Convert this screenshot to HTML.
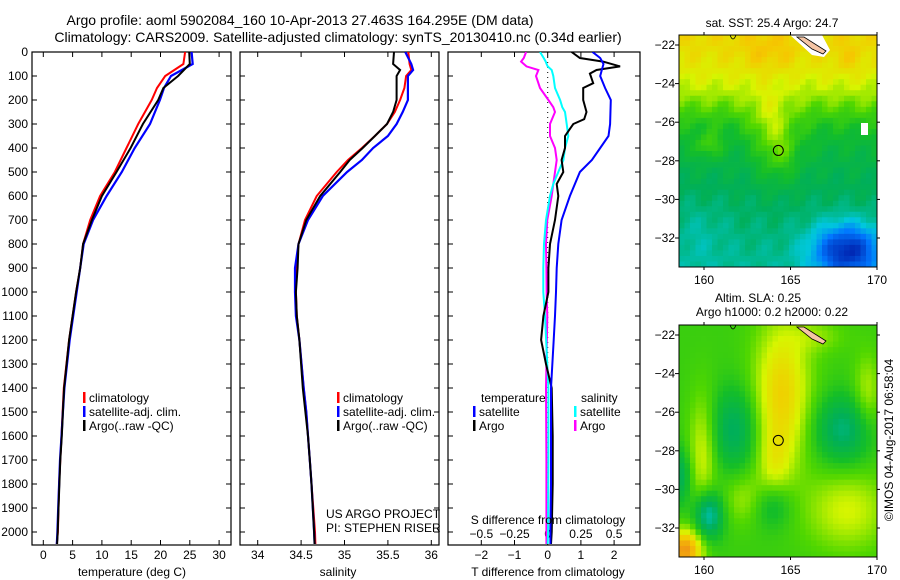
<!DOCTYPE html>
<html><head><meta charset="utf-8"><style>
body{margin:0;background:#fff;}
svg{display:block;font-family:"Liberation Sans",sans-serif;}
</style></head><body>
<svg id="c" width="900" height="580" viewBox="0 0 900 580">
<rect width="900" height="580" fill="#fff"/>
<text x="300" y="25" font-size="14" text-anchor="middle">Argo profile: aoml 5902084_160 10-Apr-2013 27.463S 164.295E (DM data)</text>
<text x="338" y="42" font-size="14" text-anchor="middle">Climatology: CARS2009. Satellite-adjusted climatology: synTS_20130410.nc (0.34d earlier)</text>
<g id="g"></g>
</svg>
<script>
// ---- data ----
const depthsT=[0,50,100,150,200,300,400,500,600,700,800,900,1000,1100,1200,1400,1500,1600,1700,1800,1900,2000,2050];
const tempClim=[24.2,23.9,20.8,19.4,18.5,16.2,14.2,12.2,9.7,8.0,6.8,6.3,5.6,5.0,4.4,3.5,3.3,3.1,2.9,2.7,2.6,2.5,2.3];
const tempSat=[25.3,25.5,21.8,20.6,19.9,18.2,15.6,13.4,10.8,8.5,6.9,6.3,5.7,5.1,4.5,3.6,3.35,3.1,2.85,2.7,2.55,2.4,2.3];
const tempArgo=[24.9,25.0,23.0,20.5,19.6,17.0,14.9,12.5,10.0,8.3,6.8,6.3,5.6,5.0,4.4,3.55,3.35,3.15,2.9,2.75,2.6,2.45,2.35];
const depthsS=[0,50,75,100,150,200,250,300,350,400,450,500,600,700,800,900,1000,1100,1200,1400,1500,1600,1700,1800,1900,2000,2050];
const salClim=[35.735,35.75,35.77,35.71,35.69,35.64,35.58,35.49,35.35,35.2,35.04,34.91,34.68,34.545,34.47,34.44,34.44,34.45,34.48,34.53,34.56,34.58,34.6,34.62,34.64,34.66,34.665];
const salSat=[35.70,35.77,35.79,35.73,35.73,35.73,35.67,35.6,35.5,35.33,35.2,35.03,34.75,34.58,34.47,34.43,34.43,34.44,34.48,34.53,34.56,34.58,34.6,34.62,34.635,34.65,34.655];
const salArgo=[35.57,35.56,35.64,35.6,35.6,35.6,35.56,35.49,35.35,35.21,35.06,34.95,34.72,34.56,34.47,34.46,34.44,34.45,34.48,34.52,34.55,34.58,34.6,34.62,34.635,34.65,34.655];
const depthsDT=[0,25,50,75,100,150,200,300,350,400,450,500,600,700,800,900,1000,1100,1200,1400,1600,1800,2000,2050];
const dTSat=[1.35,1.58,1.68,1.63,1.58,1.73,1.9,1.88,1.83,1.58,1.33,0.97,0.67,0.42,0.32,0.27,0.25,0.22,0.18,0.1,0.1,0.1,0.08,0.08];
const depthsDTA=[0,25,40,60,75,90,130,150,200,250,280,300,350,400,450,500,550,600,700,800,900,1000,1100,1200,1300,1400,1600,1800,2000,2050];
const dTArgo=[0.72,0.97,1.67,2.18,1.47,1.27,1.37,1.07,1.07,1.17,1.1,0.77,0.52,0.52,0.42,0.47,0.27,0.32,0.22,0.07,0.02,0.02,-0.13,-0.2,-0.05,0.12,0.15,0.15,0.12,0.1];
const depthsDS=[0,25,40,50,60,75,100,150,200,230,250,300,350,400,450,500,550,600,700,800,900,1000,1100,1400,1700,2000,2050];
const dSSat=[-0.058,-0.03,-0.015,-0.008,0.0,0.03,0.042,0.055,0.093,0.11,0.13,0.143,0.155,0.13,0.118,0.08,0.042,0.017,-0.013,-0.028,-0.033,-0.033,-0.02,0.005,0.005,0.003,0.0];
const dSArgo=[-0.163,-0.18,-0.2,-0.18,-0.16,-0.07,-0.088,-0.058,0.005,0.042,0.055,0.017,0.017,0.055,0.068,0.055,0.042,0.03,-0.003,-0.013,-0.01,-0.008,-0.003,-0.013,-0.01,-0.01,-0.01];
const depthTicks=[0,100,200,300,400,500,600,700,800,900,1000,1100,1200,1300,1400,1500,1600,1700,1800,1900,2000];
const tTicks=[0,5,10,15,20,25,30];
const sTicks=[34,34.5,35,35.5,36];
const sTickLabels=["34","34.5","35","35.5","36"];
const dtTicks=[-2,-1,0,1,2];
const dsTicks=[-0.5,-0.25,0,0.25,0.5];
const dsTickLabels=["-0.5","-0.25","0","0.25","0.5"];
const latTicks=[-22,-24,-26,-28,-30,-32];
const lonTicks=[160,165,170];

// ---- scales ----
const yD=d=>52+d*0.24;
const xT=t=>43.3+5.86*t;
const xS=s=>257.7+86.8*(s-34);
const xDT=t=>547.7+33.2*t;
const xDS=s=>547.7+132.8*s;
const NS="http://www.w3.org/2000/svg";
const G=document.getElementById('g');
function mk(tag,attrs,parent){const e=document.createElementNS(NS,tag);for(const k in attrs)e.setAttribute(k,attrs[k]);(parent||G).appendChild(e);return e;}
function txt(x,y,s,size,anchor,parent){const e=mk('text',{x:x,y:y,'font-size':size,'text-anchor':anchor||'start'},parent);e.textContent=s;return e;}

const defs=mk('defs',{});
[[32,231,'c1'],[240,439,'c2'],[448,640,'c3']].forEach(a=>{const cp=mk('clipPath',{id:a[2]},defs);mk('rect',{x:a[0],y:52,width:a[1]-a[0],height:493},cp);});

function panel(x0,x1,name){
  const g=mk('g',{});
  
  
  mk('rect',{x:x0,y:52,width:x1-x0,height:493,fill:'none',stroke:'#000','stroke-width':1.2},g);
  depthTicks.forEach(d=>{const y=yD(d);mk('line',{x1:x0,x2:x0+5,y1:y,y2:y,stroke:'#000'},g);mk('line',{x1:x1-5,x2:x1,y1:y,y2:y,stroke:'#000'},g);});
  return g;
}
function xticks(g,vals,f,x0,x1,labels,ly){vals.forEach((v,i)=>{const x=f(v);if(x<x0||x>x1)return;mk('line',{x1:x,x2:x,y1:52,y2:57,stroke:'#000'},g);mk('line',{x1:x,x2:x,y1:540,y2:545,stroke:'#000'},g);if(labels){const t=txt(x,ly,labels[i],12,'middle',g);}});}
function series(depths,vals,f,color,clip,name,w){
  const pts=depths.map((d,i)=>f(vals[i]).toFixed(1)+','+yD(d).toFixed(1)).join(' ');
  const p=mk('polyline',{points:pts,fill:'none',stroke:color,'stroke-width':w||2,'clip-path':'url(#'+clip+')'});
  
  
}
const p1=panel(32,231,'temperature-panel');
depthTicks.forEach(d=>{const t=txt(28,yD(d)+4,String(d),12,'end');});
xticks(p1,tTicks,xT,32,231,tTicks.map(String),559);
series(depthsT,tempClim,xT,'#f00','c1','temp-climatology-line');
series(depthsT,tempSat,xT,'#00f','c1','temp-satellite-line',2.2);
series(depthsT,tempArgo,xT,'#000','c1','temp-argo-line');
let t=txt(132,576,'temperature (deg C)',12,'middle');
const p2=panel(240,439,'salinity-panel');
xticks(p2,sTicks,xS,240,439,sTickLabels,559);
series(depthsS,salClim,xS,'#f00','c2','sal-climatology-line');
series(depthsS,salSat,xS,'#00f','c2','sal-satellite-line',2.2);
series(depthsS,salArgo,xS,'#000','c2','sal-argo-line');
t=txt(338,576,'salinity',12,'middle');
const p3=panel(448,640,'difference-panel');
xticks(p3,dtTicks,xDT,448,640,dtTicks.map(v=>v<0?'\u2212'+Math.abs(v):String(v)),559);
mk('line',{x1:xDT(0),x2:xDT(0),y1:yD(0),y2:yD(2050),stroke:'#000','stroke-dasharray':'1,4'},p3);
series(depthsDS,dSArgo,xDS,'#f0f','c3','sal-diff-argo-line');
series(depthsDS,dSSat,xDS,'#0ff','c3','sal-diff-satellite-line');
series(depthsDTA,dTArgo,xDT,'#000','c3','temp-diff-argo-line');
series(depthsDT,dTSat,xDT,'#00f','c3','temp-diff-satellite-line');
dsTicks.forEach((v,i)=>{const tt=txt(xDS(v),538,dsTickLabels[i].replace('-','\u2212'),12,'middle',p3);});
t=txt(548,524,'S difference from climatology',12,'middle');
t=txt(548,576,'T difference from climatology',12,'middle');

function legend(x,y,color,label,name){const g=mk('g',{});mk('rect',{x:x,y:y-10,width:2.5,height:11,fill:color},g);txt(x+6,y,label,12,'start',g);}
legend(83,402,'#f00','climatology','legend-climatology');
legend(83,416,'#00f','satellite-adj. clim.','legend-satellite-adj');
legend(83,430,'#000','Argo(..raw -QC)','legend-argo');
legend(337,402,'#f00','climatology','legend2-climatology');
legend(337,416,'#00f','satellite-adj. clim.','legend2-satellite-adj');
legend(337,430,'#000','Argo(..raw -QC)','legend2-argo');
t=txt(481,402,'temperature',12);
t=txt(581,402,'salinity',12);
legend(473,416,'#00f','satellite','legend-t-satellite');
legend(473,430,'#000','Argo','legend-t-argo');
legend(574,416,'#0ff','satellite','legend-s-satellite');
legend(574,430,'#f0f','Argo','legend-s-argo');
t=txt(326,518,'US ARGO PROJECT',12);
t=txt(326,532,'PI: STEPHEN RISER',12);

// ---- maps ----
const lonX=l=>704+(l-160)*17.3;
const latY=(la,top)=>top+10+(-22-la)*19.3;
const cmapStops=[[0,[0,40,180]],[0.18,[0,120,255]],[0.32,[0,200,220]],[0.45,[0,175,90]],[0.55,[20,190,40]],[0.63,[80,215,0]],[0.72,[215,245,0]],[0.82,[245,200,0]],[0.92,[240,150,20]],[1,[230,120,20]]];
function cmap(v){v=Math.max(0,Math.min(1,v));for(let i=1;i<cmapStops.length;i++){if(v<=cmapStops[i][0]){const a=cmapStops[i-1],b=cmapStops[i];const f=(v-a[0])/(b[0]-a[0]);const c=a[1].map((x,k)=>Math.round(x+(b[1][k]-x)*f));return 'rgb('+c+')';}}return 'rgb(230,120,20)';}
const gau=(u,v,cx,cy,sx,sy,a)=>a*Math.exp(-((u-cx)*(u-cx)/(2*sx*sx)+(v-cy)*(v-cy)/(2*sy*sy)));
function sstField(u,v){let f=0.79-0.2/(1+Math.exp(-(v-0.32)*15))-0.2*v;f+=gau(u,v,0.5,0.5,0.08,0.1,0.13)+gau(u,v,0.45,0.08,0.1,0.06,0.05)+gau(u,v,0.85,0.1,0.06,0.05,0.04)+gau(u,v,0.45,0.35,0.07,0.08,0.08)+gau(u,v,0.15,0.48,0.05,0.04,0.1)-gau(u,v,0.85,0.93,0.12,0.08,0.4)-gau(u,v,0.1,0.85,0.1,0.1,0.04)+0.025*Math.sin(u*40+v*17)*Math.cos(v*31);return f;}
function slaField(u,v){let f=0.6;f+=gau(u,v,0.52,0.3,0.1,0.22,0.2)+gau(u,v,0.48,0.6,0.06,0.1,0.08)+gau(u,v,0.12,0.55,0.05,0.18,0.12)+gau(u,v,0.03,0.97,0.06,0.06,0.32)+gau(u,v,0.95,0.3,0.05,0.12,0.1)+gau(u,v,0.85,0.8,0.15,0.12,0.12)+gau(u,v,0.33,0.75,0.08,0.08,0.08)+gau(u,v,0.7,0.05,0.1,0.05,0.06)-gau(u,v,0.28,0.45,0.08,0.12,0.16)-gau(u,v,0.83,0.45,0.1,0.1,0.18)-gau(u,v,0.15,0.82,0.05,0.07,0.25)-gau(u,v,0.47,0.78,0.07,0.07,0.1)-gau(u,v,0.0,0.65,0.04,0.08,0.15);return f;}
function map(top,field,name){
  const g=mk('g',{});
  const x0=679,x1=877,y1=top+232,nx=36,ny=42,cw=(x1-x0)/nx,ch=(y1-top)/ny;
  for(let j=0;j<ny;j++)for(let i=0;i<nx;i++){mk('rect',{x:(x0+i*cw).toFixed(2),y:(top+j*ch).toFixed(2),width:(cw+0.4).toFixed(2),height:(ch+0.4).toFixed(2),fill:cmap(field((i+0.5)/nx,(j+0.5)/ny))},g);}
  return g;
}
function mapOverlay(g,top){
  const x0=679,x1=877,y1=top+232;
  mk('path',{d:'M 797 '+(top+2)+' L 804 '+(top+2)+' L 826 '+(top+16)+' L 823 '+(top+19)+' L 812 '+(top+14)+' Z',fill:'#f5c5a5',stroke:'#000','stroke-width':0.8},g);
  mk('path',{d:'M 730 '+top+' q 3 8 6 0',fill:'none',stroke:'#000','stroke-width':0.8},g);
  const mc=mk('circle',{cx:lonX(164.295),cy:latY(-27.463,top),r:5,fill:'none',stroke:'#000','stroke-width':1},g);
  
  mk('rect',{x:x0,y:top,width:x1-x0,height:y1-top,fill:'none',stroke:'#000'},g);
  latTicks.forEach(la=>{const y=latY(la,top);mk('line',{x1:x0-4,x2:x0,y1:y,y2:y,stroke:'#000'},g);mk('line',{x1:x1,x2:x1+3,y1:y,y2:y,stroke:'#000'},g);const tl=txt(675,y+4,'\u2212'+Math.abs(la),12,'end',g);});
  lonTicks.forEach(lo=>{const x=lonX(lo);mk('line',{x1:x,x2:x,y1:top-3,y2:top,stroke:'#000'},g);mk('line',{x1:x,x2:x,y1:y1,y2:y1+3,stroke:'#000'},g);const tl=txt(x,y1+17,String(lo),12,'middle',g);});
}
const m1=map(35,sstField,'sst-map');
mk('path',{d:'M 790 35 L 822 35 L 830 50 L 824 57 L 812 55 L 800 44 Z',fill:'#fff'},m1);
mk('rect',{x:861,y:123,width:7,height:12,fill:'#fff'},m1);
mapOverlay(m1,35);
t=txt(772,27,'sat. SST: 25.4 Argo: 24.7',12,'middle');
const m2=map(325,slaField,'sla-map');
mapOverlay(m2,325);
t=txt(758,302,'Altim. SLA: 0.25',12,'middle');
t=txt(772,316,'Argo h1000: 0.2 h2000: 0.22',12,'middle');
t=txt(0,0,'\u00A9IMOS 04-Aug-2017 06:58:04',12,'middle');t.setAttribute('transform','translate(893,440) rotate(-90)');
</script>
</body></html>
